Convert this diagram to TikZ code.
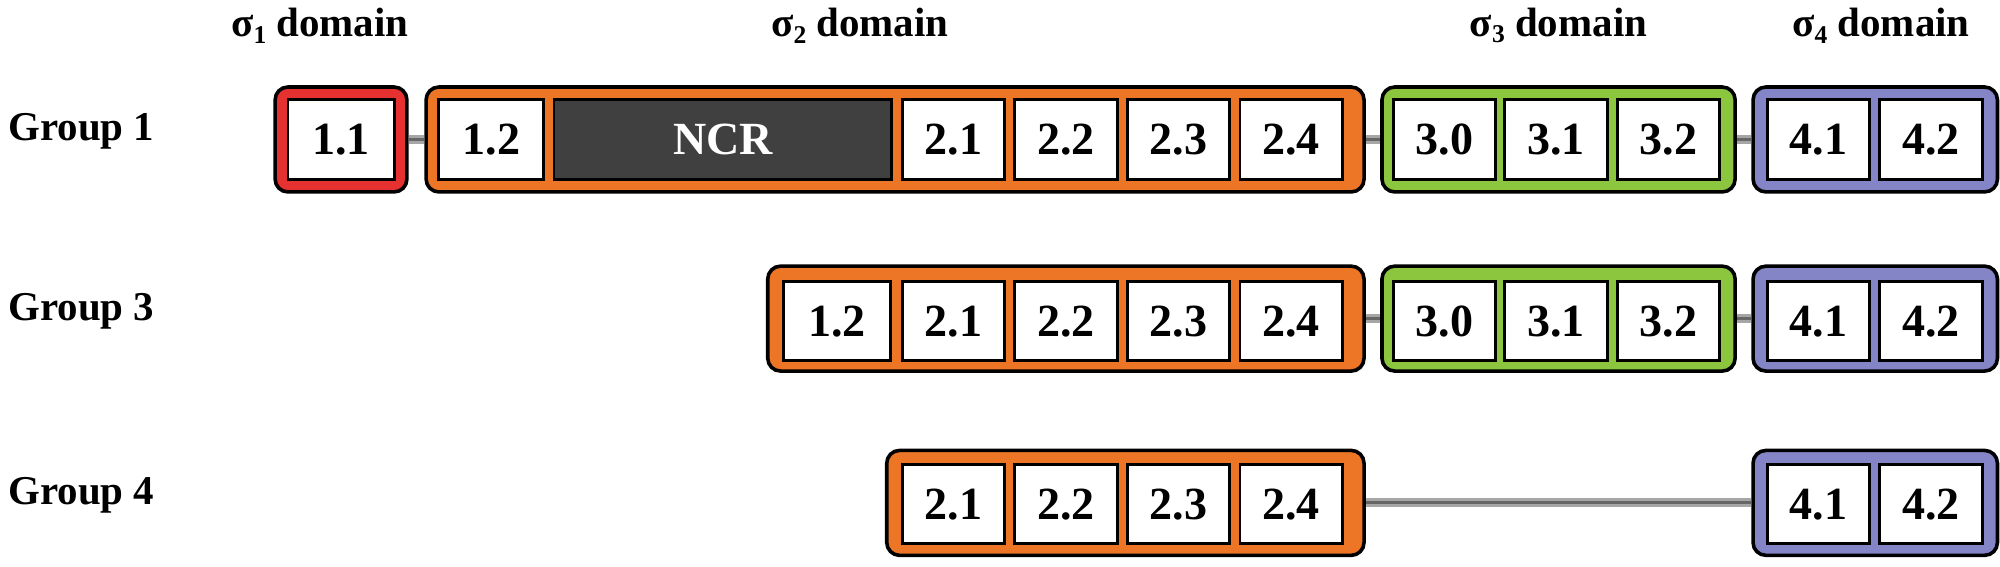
\documentclass[tikz,border=0pt]{standalone}
\usepackage{fontspec}
\setmainfont{Liberation Serif}
\definecolor{cred}{HTML}{E5312F}
\definecolor{corg}{HTML}{EC7625}
\definecolor{cgrn}{HTML}{8CC63F}
\definecolor{cblu}{HTML}{8485C6}
\definecolor{cncr}{HTML}{404040}
\newcommand{\sub}[1]{\raisebox{-0.35ex}{\fontsize{20}{20}\selectfont #1}}
\tikzset{
 cell/.style={draw, line width=2.2pt, fill=white, minimum height=62pt, minimum width=80pt, inner sep=0pt, font=\fontsize{36}{36}\selectfont\bfseries},
 dom/.style={draw, line width=2.8pt, rounded corners=10pt, minimum height=82pt, inner sep=0pt, fill=#1},
 link/.style={line width=7pt, gray!70},
 linkc/.style={line width=2.5pt, black!60},
 head/.style={font=\fontsize{32}{32}\selectfont\bfseries},
 grp/.style={font=\fontsize{32}{32}\selectfont\bfseries, anchor=west}
}
\begin{document}
\begin{tikzpicture}[x=1pt,y=-1pt]
\useasboundingbox (0,0) rectangle (1563,443);
% headers
\node[head] (h1) at (250,20) {σ\sub{1} domain};
\node[head] (h2) at (672,20) {σ\sub{2} domain};
\node[head] (h3) at (1218,20) {σ\sub{3} domain};
\node[head] (h4) at (1470,20) {σ\sub{4} domain};
\node[grp] (g1) at (3,103) {Group 1};
\node[grp] (g3) at (3,243) {Group 3};
\node[grp] (g4) at (3,387) {Group 4};
% row 1 domains
\node[dom=cred, minimum width=103pt] (r1a) at (266.5,109) {};
\node[dom=corg, minimum width=733pt] (r1b) at (699.5,109) {};
\node[dom=cgrn, minimum width=276pt] (r1c) at (1218,109) {};
\node[dom=cblu, minimum width=191pt] (r1d) at (1465.5,109) {};
\foreach \a/\b in {r1a/r1b,r1b/r1c,r1c/r1d}{
 \draw[link] (\a.east) -- (\b.west); \draw[linkc] (\a.east) -- (\b.west);}
\node[cell, minimum width=83pt] (c11) at (266.5,109) {1.1};
\node[cell, minimum width=82pt] (c12) at (384,109) {1.2};
\node[cell, minimum width=264pt, fill=cncr, text=white] (ncr) at (565,109) {NCR};
\node[cell] (c21) at (745,109) {2.1};
\node[cell] (c22) at (833,109) {2.2};
\node[cell] (c23) at (921,109) {2.3};
\node[cell] (c24) at (1009,109) {2.4};
\node[cell] (c30) at (1129,109) {3.0};
\node[cell] (c31) at (1216,109) {3.1};
\node[cell] (c32) at (1304,109) {3.2};
\node[cell] (c41) at (1421,109) {4.1};
\node[cell] (c42) at (1509,109) {4.2};
% row 2
\node[dom=corg, minimum width=466pt] (r2b) at (833,249) {};
\node[dom=cgrn, minimum width=276pt] (r2c) at (1218,249) {};
\node[dom=cblu, minimum width=191pt] (r2d) at (1465.5,249) {};
\foreach \a/\b in {r2b/r2c,r2c/r2d}{
 \draw[link] (\a.east) -- (\b.west); \draw[linkc] (\a.east) -- (\b.west);}
\node[cell, minimum width=84pt] (d12) at (654,251) {1.2};
\node[cell] (d21) at (745,251) {2.1};
\node[cell] (d22) at (833,251) {2.2};
\node[cell] (d23) at (921,251) {2.3};
\node[cell] (d24) at (1009,251) {2.4};
\node[cell] (d30) at (1129,251) {3.0};
\node[cell] (d31) at (1216,251) {3.1};
\node[cell] (d32) at (1304,251) {3.2};
\node[cell] (d41) at (1421,251) {4.1};
\node[cell] (d42) at (1509,251) {4.2};
% row 3
\node[dom=corg, minimum width=373pt] (r3b) at (879.5,393) {};
\node[dom=cblu, minimum width=191pt] (r3d) at (1465.5,393) {};
\draw[link] (r3b.east) -- (r3d.west); \draw[linkc] (r3b.east) -- (r3d.west);
\node[cell] (e21) at (745,394) {2.1};
\node[cell] (e22) at (833,394) {2.2};
\node[cell] (e23) at (921,394) {2.3};
\node[cell] (e24) at (1009,394) {2.4};
\node[cell] (e41) at (1421,394) {4.1};
\node[cell] (e42) at (1509,394) {4.2};
\end{tikzpicture}
\end{document}
